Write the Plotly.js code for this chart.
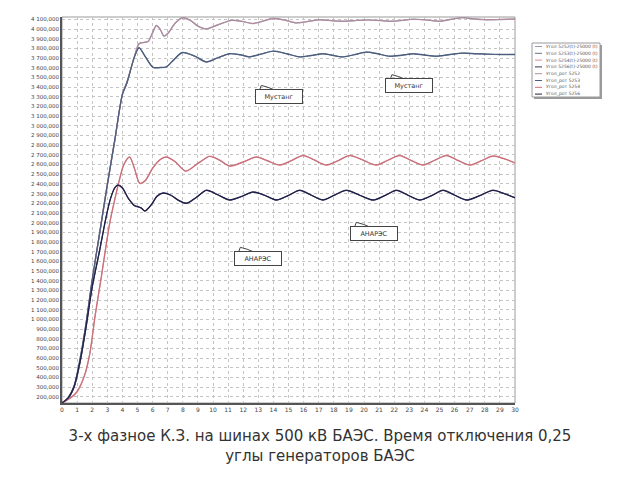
<!DOCTYPE html>
<html>
<head>
<meta charset="utf-8">
<script src="https://cdn.plot.ly/plotly-3.0.1.min.js"></script>
<style>html,body{margin:0;padding:0;background:#fff;}#chart{width:640px;height:480px;}</style>
</head>
<body>
<div id="chart"></div>
<script>
// ---- data (angles, degrees; time, s) ----
const seriesNames = [
  "Угол 5252(t)-25000 (t)", "Угол 5253(t)-25000 (t)", "Угол 5254(t)-25000 (t)", "Угол 5256(t)-25000 (t)",
  "Угол_рот 5252", "Угол_рот 5253", "Угол_рот 5254", "Угол_рот 5256"
];
const seriesColors = ["#9a9aac", "#62728e", "#e08a92", "#36365a", "#b28a9e", "#4c5c7c", "#c8707a", "#20204a"];

const tA = [0,0.4,0.8,1.2,1.6,2.0,2.5,3.0,3.5,4.0,4.3,4.8,5.1,5.4,5.7,6.0,6.25,6.5,6.75,7.0,7.5,7.97,8.5,9.0,9.56,10.3,11.2,11.9,12.6,13.3,13.95,14.7,15.5,16.2,17.05,18.0,18.8,19.5,20.3,21.1,21.9,22.6,23.25,24.1,25.0,25.8,26.55,27.3,28.1,29.0,30];
const vA1 = [137,190,300,560,950,1400,1900,2400,2860,3330,3450,3720,3850,3860,3870,3960,4038,4000,3925,3950,4060,4118,4090,4030,4000,4040,4090,4080,4056,4080,4110,4095,4062,4075,4097,4085,4079,4088,4095,4088,4079,4090,4103,4095,4079,4100,4118,4105,4095,4097,4105];
const vA2 = [137,195,310,575,965,1410,1905,2395,2855,3325,3455,3715,3845,3862,3872,3965,4035,3995,3928,3955,4062,4115,4088,4032,4002,4042,4088,4078,4058,4082,4108,4093,4064,4077,4095,4083,4081,4090,4093,4086,4081,4092,4101,4093,4081,4102,4116,4103,4097,4099,4103];

const tB = [0,0.4,0.8,1.2,1.6,2.0,2.5,3.0,3.5,4.0,4.3,4.8,5.1,5.5,6.03,6.5,6.91,7.4,7.97,8.8,9.56,10.3,11.1,11.8,12.4,13.2,13.97,14.9,15.74,16.5,17.28,17.9,18.6,19.4,20.16,20.9,21.7,22.5,23.25,24.0,24.8,25.7,26.55,27.4,28.2,29.1,30];
const vB1 = [137,185,310,590,960,1400,1890,2380,2850,3320,3440,3715,3808,3720,3602,3600,3608,3680,3759,3720,3659,3700,3746,3735,3711,3740,3773,3745,3711,3725,3746,3730,3711,3735,3763,3745,3718,3728,3746,3732,3718,3735,3752,3746,3739,3736,3736];
const vB2 = [137,190,315,600,970,1415,1900,2390,2860,3325,3445,3712,3805,3718,3605,3603,3610,3683,3756,3718,3661,3703,3744,3733,3713,3742,3770,3743,3713,3727,3744,3728,3713,3737,3760,3743,3720,3730,3744,3730,3720,3737,3750,3744,3741,3738,3738];

const tC = [0,0.5,1.0,1.5,1.84,2.2,2.6,3.16,3.5,3.8,4.1,4.48,4.8,5.15,5.5,6.0,6.5,6.91,7.5,8.19,9.0,9.78,10.4,11.1,12.0,12.87,13.6,14.42,15.2,15.96,16.7,17.5,18.3,19.05,19.9,20.8,21.6,22.36,23.1,23.9,24.7,25.46,26.2,27.0,27.8,28.54,29.3,30];
const vC1 = [137,180,250,420,640,1040,1430,1992,2240,2440,2600,2679,2560,2404,2430,2560,2650,2679,2630,2531,2610,2686,2650,2583,2625,2679,2640,2593,2640,2696,2650,2593,2640,2696,2650,2593,2645,2696,2645,2593,2645,2696,2645,2593,2640,2689,2660,2615];
const vC2 = [137,185,258,430,650,1050,1440,1998,2245,2442,2602,2676,2558,2408,2433,2562,2652,2676,2628,2534,2612,2683,2648,2586,2627,2676,2638,2596,2642,2693,2648,2596,2642,2693,2648,2596,2647,2693,2643,2596,2647,2693,2643,2596,2642,2686,2658,2618];

const tD = [0,0.4,0.8,1.2,1.6,2.0,2.5,2.9,3.2,3.5,3.71,4.0,4.4,4.8,5.03,5.25,5.48,5.9,6.3,6.69,7.2,7.7,8.24,8.9,9.56,10.3,11.1,11.9,12.65,13.4,14.2,15.0,15.74,16.5,17.28,18.0,18.83,19.7,20.6,21.4,22.15,22.9,23.7,24.5,25.23,26.0,26.8,27.7,28.54,29.3,30];
const vD1 = [137,185,300,560,920,1330,1716,2040,2240,2360,2390,2360,2250,2175,2163,2150,2118,2180,2275,2307,2285,2230,2198,2260,2335,2290,2232,2270,2318,2285,2232,2280,2335,2285,2232,2280,2335,2285,2232,2280,2335,2285,2232,2280,2335,2285,2232,2280,2335,2300,2256];
const vD2 = [137,188,305,568,930,1340,1722,2045,2243,2362,2387,2357,2248,2178,2166,2152,2121,2183,2272,2304,2283,2233,2201,2262,2332,2288,2235,2272,2315,2283,2235,2282,2332,2283,2235,2282,2332,2283,2235,2282,2332,2283,2235,2282,2332,2283,2235,2282,2332,2298,2258];

const xTickVals = [0,1,2,3,4,5,6,7,8,9,10,11,12,13,14,15,16,17,18,19,20,21,22,23,24,25,26,27,28,29,30];
const yTickVals = [200,300,400,500,600,700,800,900,1000,1100,1200,1300,1400,1500,1600,1700,1800,1900,2000,2100,2200,2300,2400,2500,2600,2700,2800,2900,3000,3100,3200,3300,3400,3500,3600,3700,3800,3900,4000,4100];
const yTickText = ["200,000","300,000","400,000","500,000","600,000","700,000","800,000","900,000","1 000,000","1 100,000","1 200,000","1 300,000","1 400,000","1 500,000","1 600,000","1 700,000","1 800,000","1 900,000","2 000,000","2 100,000","2 200,000","2 300,000","2 400,000","2 500,000","2 600,000","2 700,000","2 800,000","2 900,000","3 000,000","3 100,000","3 200,000","3 300,000","3 400,000","3 500,000","3 600,000","3 700,000","3 800,000","3 900,000","4 000,000","4 100,000"];

const calloutTexts = ["Мустанг", "Мустанг", "АНАРЭС", "АНАРЭС"];
const calloutX = [14.35, 23.0, 20.64, 12.96];
const calloutY = [3305, 3416, 1891, 1633];

const titleText = "3-х фазное К.З. на шинах 500 кВ БАЭС. Время отключения 0,25<br>углы генераторов БАЭС";

// ---- build ----
const xs = [tA, tB, tC, tD, tA, tB, tC, tD];
const ys = [vA1, vB1, vC1, vD1, vA2, vB2, vC2, vD2];
const traces = xs.map((x, i) => ({
  type: 'scatter', mode: 'lines', x: x, y: ys[i], name: seriesNames[i],
  line: {color: seriesColors[i], width: 1.2, shape: 'spline', smoothing: 0.8},
  hoverinfo: 'skip'
}));

const ML = 62, MR = 125, MT = 17, MB = 77, W = 640, H = 480;
const PW = W - ML - MR, PH = H - MT - MB;
const px = v => (v - ML) / PW;
const py = v => (H - MB - v) / PH;

const shapes = [
  {type: 'rect', xref: 'paper', yref: 'paper', x0: 0, x1: 1, y0: 0, y1: 1, line: {color: '#9a9a9a', width: 1}, layer: 'below'},
  // legend box with shadow
  {type: 'rect', xref: 'paper', yref: 'paper', x0: px(534), x1: px(602), y0: py(99), y1: py(45), line: {width: 0}, fillcolor: '#9a9a9a'},
  {type: 'rect', xref: 'paper', yref: 'paper', x0: px(532), x1: px(600), y0: py(97), y1: py(43), line: {color: '#9a9a9a', width: 1}, fillcolor: '#ffffff'}
];
const annotations = [];
seriesNames.forEach((nm, i) => {
  const yy = 46.5 + i * 6.8;
  shapes.push({type: 'line', xref: 'paper', yref: 'paper', x0: px(535), x1: px(542), y0: py(yy), y1: py(yy), line: {color: seriesColors[i], width: 1}});
  annotations.push({xref: 'paper', yref: 'paper', x: px(543.5), y: py(yy), xanchor: 'left', yanchor: 'middle', showarrow: false,
    text: nm, font: {family: 'DejaVu Sans', size: 4.5, color: '#555'}});
});

calloutTexts.forEach((txt, i) => {
  annotations.push({xref: 'x', yref: 'y', x: calloutX[i], y: calloutY[i], showarrow: false, text: txt,
    font: {family: 'DejaVu Sans', size: 6.5, color: '#333'}, bgcolor: '#ffffff', bordercolor: '#444', borderwidth: 1,
    borderpad: 1, width: 44, height: 11});
  // small pointer tab on the top edge
  const top = calloutY[i] + 6.8 * 10.33;
  const x0 = calloutX[i] - 1.25;
  shapes.push({type: 'path', xref: 'x', yref: 'y',
    path: `M ${x0},${top} L ${x0 + 0.1},${top + 42} L ${x0 + 0.55},${top + 22} L ${x0 + 0.9},${top}`,
    line: {color: '#444', width: 1}});
});

const layout = {
  width: W, height: H,
  margin: {l: ML, r: MR, t: MT, b: MB, pad: 0},
  paper_bgcolor: '#ffffff', plot_bgcolor: '#ffffff',
  showlegend: false,
  title: {text: titleText, x: 0.5, xref: 'container', xanchor: 'center', y: 1 - 441 / 480, yref: 'container', yanchor: 'middle',
    font: {family: 'DejaVu Sans', size: 15, color: '#333'}},
  xaxis: {range: [0, 30], tickmode: 'array', tickvals: xTickVals, ticktext: xTickVals.map(String),
    showgrid: true, gridcolor: '#c4c4c4', griddash: 'dot', gridwidth: 1, zeroline: false,
    showline: true, linecolor: '#555', linewidth: 2, ticks: '', tickfont: {family: 'DejaVu Sans', size: 6, color: '#444'}},
  yaxis: {range: [137, 4124], tickmode: 'array', tickvals: yTickVals, ticktext: yTickText,
    showgrid: true, gridcolor: '#c4c4c4', griddash: 'dot', gridwidth: 1, zeroline: false,
    showline: true, linecolor: '#555', linewidth: 2, ticks: '', tickfont: {family: 'DejaVu Sans', size: 5.5, color: '#444'}},
  shapes: shapes,
  annotations: annotations
};

Plotly.newPlot('chart', traces, layout, {staticPlot: true, displayModeBar: false});
</script>
</body>
</html>
